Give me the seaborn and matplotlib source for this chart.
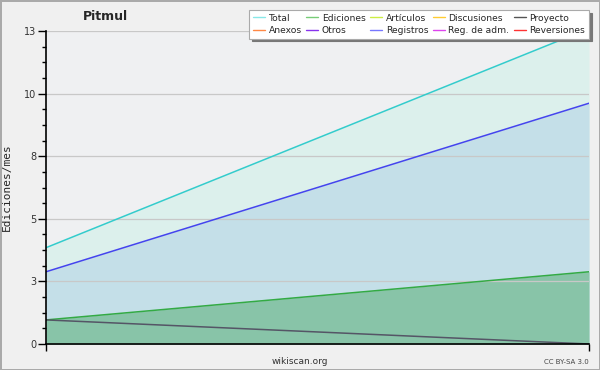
import numpy as np
import pandas as pd
import matplotlib
matplotlib.use('Agg')
import matplotlib.pyplot as plt
import seaborn as sns
from matplotlib.lines import Line2D
from matplotlib.ticker import FixedLocator

# Datos (dos meses, inicio y fin)
meses = [0, 1]
total = [4.0, 13.1]
registros = [3.0, 10.0]
ediciones = [1.0, 3.0]
proyecto = [1.0, 0.0]

y_max = 13
y_ticks = list(np.linspace(0, y_max, 6))
y_labels = ['0', '3', '5', '8', '10', '13']

leyenda = ['Total', 'Anexos', 'Ediciones', 'Otros', 'Artículos', 'Registros',
           'Discusiones', 'Reg. de adm.', 'Proyecto', 'Reversiones']
colores_leyenda = ['#88e8e8', '#ff8844', '#77cc77', '#8833ee', '#ccee44', '#7777ff',
                   '#ffcc33', '#dd44ee', '#555555', '#ff3333']

sns.set_style('white')
plt.rcParams['font.family'] = ['DejaVu Sans']

fig = plt.figure(figsize=(6, 3.7), dpi=100)
fig.patch.set_facecolor('#f0f0f0')
fig.patch.set_edgecolor('#aaaaaa')
fig.patch.set_linewidth(2)
ax = fig.add_axes([46/600, 26/370, 543/600, 313/370])
ax.set_facecolor('#eff0f2')

# areas
ax.fill_between(meses, 0, total, color='#dcf0ec', lw=0, zorder=1)
ax.fill_between(meses, 0, registros, color='#c4dfe8', lw=0, zorder=1.1)
ax.fill_between(meses, 0, ediciones, color='#88c4a8', lw=0, zorder=1.2)

df = pd.DataFrame({
    'mes': meses * 4,
    'valor': total + registros + ediciones + proyecto,
    'serie': ['Total'] * 2 + ['Registros'] * 2 + ['Ediciones'] * 2 + ['Proyecto'] * 2,
})
paleta = {'Total': '#33cccc', 'Registros': '#4444ee', 'Ediciones': '#33aa44', 'Proyecto': '#555566'}
sns.lineplot(data=df, x='mes', y='valor', hue='serie', palette=paleta, lw=1.1,
             legend=False, ax=ax, zorder=3)

ax.set_xlim(meses[0], meses[-1])
ax.set_ylim(0, y_max)
ax.set_yticks(y_ticks)
ax.set_yticklabels(y_labels)
ax.yaxis.set_minor_locator(FixedLocator(np.arange(0, y_max + 0.01, y_max / 20)))
ax.set_xticks(meses)
ax.set_xticklabels(['', ''])
ax.tick_params(axis='y', which='major', length=6, width=1, color='black',
               labelsize=7, labelcolor='#333333', pad=1, left=True)
ax.tick_params(axis='y', which='minor', length=3, width=1, color='black', left=True)
ax.tick_params(axis='x', which='major', length=5, width=1, color='black', bottom=True)

ax.grid(axis='y', which='major', color='#c8c8c8', lw=0.9, zorder=2)
ax.set_axisbelow(False)
for s in ['top', 'right']:
    ax.spines[s].set_visible(False)
for s in ['left', 'bottom']:
    ax.spines[s].set_color('black')
    ax.spines[s].set_linewidth(1.2)
    ax.spines[s].set_zorder(4)

ax.set_xlabel('')
ax.set_ylabel('Ediciones/mes', family='DejaVu Sans Mono', fontsize=8)
ax.yaxis.set_label_coords(-34/543, 0.5)

fig.text(105/600, 1 - 17/370, 'Pitmul', ha='center', va='center',
         fontsize=9, fontweight='bold')
fig.text(300/600, 1 - 361/370, 'wikiscan.org', ha='center', va='center',
         fontsize=6.5, color='#333333')
fig.text(589/600, 1 - 362/370, 'CC BY-SA 3.0', ha='right', va='center',
         fontsize=5, color='#444444')

handles = [Line2D([0], [0], color=c, lw=1) for c in colores_leyenda]
leg = fig.legend(handles, leyenda, ncol=5, loc='upper right',
                 bbox_to_anchor=(589/600, 1 - 10/370), fontsize=6.6,
                 handlelength=1.3, handletextpad=0.4, columnspacing=0.5,
                 labelspacing=0.35, borderpad=0.4, frameon=True, fancybox=False,
                 shadow={'color': '#777777', 'alpha': 1}, borderaxespad=0)
leg.get_frame().set_edgecolor('#aaaaaa')
leg.get_frame().set_linewidth(0.8)
leg.get_frame().set_facecolor('white')

fig.savefig('out.png', dpi=100, facecolor=fig.get_facecolor(), edgecolor=fig.get_edgecolor())
